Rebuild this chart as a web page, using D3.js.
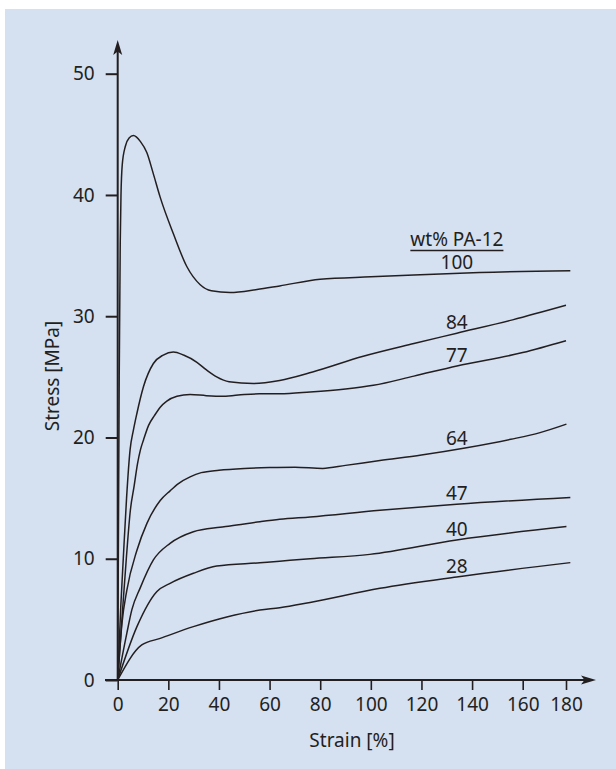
<!DOCTYPE html>
<html><head><meta charset="utf-8">
<script src="https://cdn.jsdelivr.net/npm/d3@7"></script>
<style>
html,body{margin:0;padding:0;background:#fff;}
svg text{font-family:"Noto Sans",sans-serif;fill:#231f20;}
</style></head>
<body>
<svg id="chart" width="616" height="769"></svg>
<script>
// ---- data ----
const xTicks = [0,20,40,60,80,100,120,140,160,180];
const yTicks = [0,10,20,30,40,50];
const seriesNames = ["100","84","77","64","47","40","28"];
const legendTitle = "wt% PA-12";
const xTitle = "Strain [%]";
const yTitle = "Stress [MPa]";

const s100 = [[0,0],[0.6,25],[1.0,36],[1.3,40],[1.8,42.5],[3,44],[4.5,44.7],[6.2,44.9],[9,44.4],[11.5,43.5],[14,41.8],[16.8,39.8],[22,36.8],[27.3,34.1],[32.6,32.6],[37,32.1],[44.4,31.95],[55,32.2],[64,32.5],[80,33.05],[100,33.25],[117,33.4],[143,33.6],[182,33.75]];
const s84 = [[0,0],[1.2,6],[2.2,10],[3.5,15],[4.9,19],[6.2,20.6],[7.6,22.0],[10.2,24.2],[14.1,26.1],[18,26.8],[22,27.05],[26,26.8],[31.3,26.2],[35.2,25.55],[39.1,25.0],[44,24.6],[53.6,24.45],[64,24.7],[77,25.4],[97,26.7],[117,27.75],[134,28.6],[156,29.7],[180,30.9]];
const s77 = [[0,0],[2,6],[3.4,10],[5,14],[6.5,16],[7.8,17.8],[9,19.0],[10.2,19.8],[12.2,21.0],[14.5,21.8],[16.8,22.5],[19.4,23.0],[23.4,23.4],[28.6,23.55],[35,23.45],[41.8,23.4],[50,23.55],[56,23.6],[64,23.6],[76,23.75],[90,24.0],[101,24.3],[117,25.06],[134,25.9],[160,27.0],[180,27.98]];
const s64 = [[0,0],[1.7,4.7],[3.6,7.4],[7.6,10.7],[11.5,12.9],[16.8,14.8],[20.7,15.6],[24,16.2],[28.6,16.75],[33,17.1],[40,17.3],[50,17.45],[60,17.52],[70,17.55],[81,17.45],[90,17.7],[103.6,18.1],[120,18.55],[137.8,19.15],[155.3,19.85],[168,20.4],[180.2,21.1]];
const s47 = [[0,0],[3.6,3.85],[5.6,5.8],[8.9,7.6],[14.1,9.9],[20.7,11.27],[29.9,12.23],[40.4,12.6],[44.4,12.7],[56.2,13.05],[64,13.25],[76,13.45],[103.6,14.0],[133.9,14.5],[182,15.06]];
const s40 = [[0,0],[7.6,4.4],[15.5,7.3],[20.7,7.97],[29.9,8.8],[39.1,9.4],[56.2,9.67],[64,9.8],[76,10.0],[99.6,10.36],[133.9,11.55],[180.2,12.65]];
const s28 = [[0,0],[9.5,2.89],[16.8,3.43],[29.9,4.4],[43.1,5.2],[56.2,5.77],[64,5.96],[76,6.4],[103.6,7.56],[133.9,8.5],[182,9.68]];
const allSeries = [s100,s84,s77,s64,s47,s40,s28];
const labelStrain = 134;

// ---- drawing ----
const svg = d3.select("#chart");
const ink = "#231f20";
svg.append("rect").attr("x",5).attr("y",9).attr("width",611).attr("height",760).attr("fill","#d5e0f1");

const x = d3.scaleLinear().domain([0,160,180]).range([117.7,522.7,566]);
const y = d3.scaleLinear().domain([0,50]).range([680,73.7]);

const fs = 19;

// axes lines with arrows
const x0 = x(0), y0 = y(0);
svg.append("line").attr("x1",x0).attr("x2",x0).attr("y1",y0).attr("y2",50)
  .attr("stroke",ink).attr("stroke-width",2);
svg.append("path").attr("d",`M${x0},40 L${x0+4.5},55 L${x0},51.5 L${x0-4.5},55 Z`).attr("fill",ink);
svg.append("line").attr("x1",105).attr("x2",585).attr("y1",y0).attr("y2",y0)
  .attr("stroke",ink).attr("stroke-width",2);
svg.append("path").attr("d",`M596,${y0} L581,${y0-4.5} L584.5,${y0} L581,${y0+4.5} Z`).attr("fill",ink);

// y axis ticks
const yAxis = d3.axisLeft(y).tickValues(yTicks).tickSize(12).tickPadding(11).tickFormat(d3.format("d"));
const gy = svg.append("g").attr("transform",`translate(${x0},0)`).call(yAxis);
gy.select(".domain").remove();
gy.selectAll("line").attr("stroke",ink).attr("stroke-width",2);
gy.selectAll("text").attr("font-size",fs).attr("font-family","Noto Sans").attr("fill",ink);

// x axis ticks
const xAxis = d3.axisBottom(x).tickValues(xTicks).tickSize(10).tickPadding(8).tickFormat(d3.format("d"));
const gx = svg.append("g").attr("transform",`translate(0,${y0})`).call(xAxis);
gx.select(".domain").remove();
gx.selectAll("line").attr("stroke",ink).attr("stroke-width",1.6);
gx.selectAll("text").attr("font-size",fs).attr("font-family","Noto Sans").attr("fill",ink);

// axis titles
svg.append("text").attr("x",352).attr("y",747).attr("text-anchor","middle").attr("font-size",fs).text(xTitle);
svg.append("text").attr("transform","translate(59,376) rotate(-90)").attr("text-anchor","middle").attr("font-size",fs).text(yTitle);

// curves
const line = d3.line().x(d=>x(d[0])).y(d=>y(d[1])).curve(d3.curveMonotoneX);
svg.append("g").selectAll("path").data(allSeries).join("path")
  .attr("d",line).attr("fill","none").attr("stroke",ink).attr("stroke-width",1.5);

// labels
function valAt(s, xv){
  for(let i=1;i<s.length;i++){
    if(s[i][0]>=xv){const a=s[i-1],b=s[i];return a[1]+(b[1]-a[1])*(xv-a[0])/(b[0]-a[0]);}
  }
  return s[s.length-1][1];
}
allSeries.forEach((s,i)=>{
  svg.append("text").attr("x",x(labelStrain)).attr("y",y(valAt(s,labelStrain))-4)
    .attr("text-anchor","middle").attr("font-size",fs).text(seriesNames[i]);
});
// legend title, underlined
const lt = svg.append("text").attr("x",x(labelStrain)).attr("y",246).attr("text-anchor","middle").attr("font-size",fs).text(legendTitle);
const bb = lt.node().getBBox();
svg.append("line").attr("x1",bb.x).attr("x2",bb.x+bb.width).attr("y1",250.5).attr("y2",250.5).attr("stroke",ink).attr("stroke-width",1.3);
</script>
</body></html>
